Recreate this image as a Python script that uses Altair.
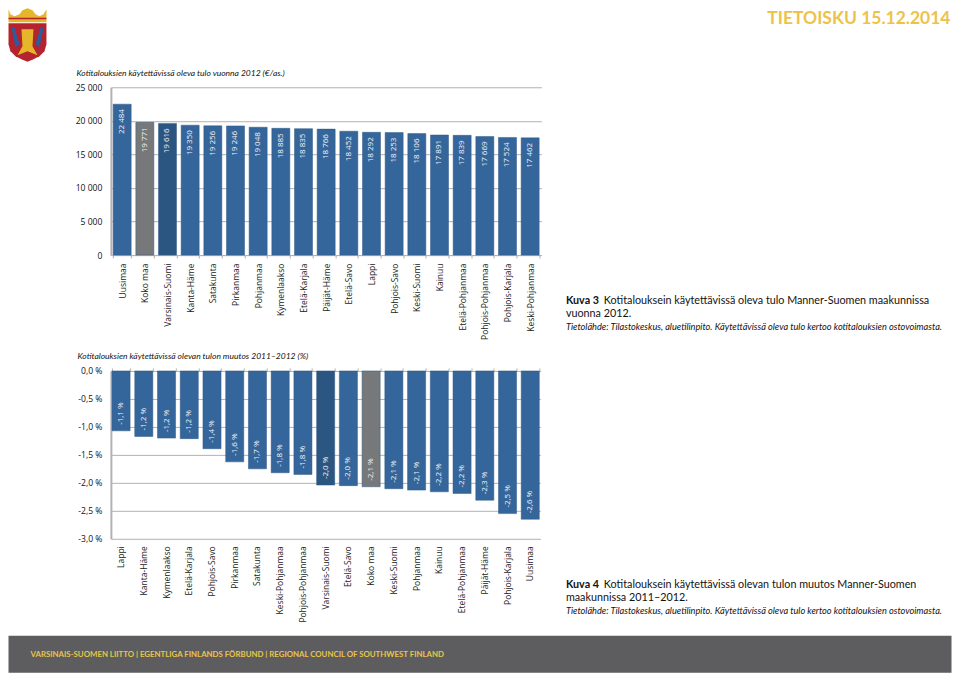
import altair as alt
import pandas as pd

# ---- data ----
names_income = ["Uusimaa", "Koko maa", "Varsinais-Suomi", "Kanta-Häme", "Satakunta", "Pirkanmaa", "Pohjanmaa",
                "Kymenlaakso", "Etelä-Karjala", "Päijät-Häme", "Etelä-Savo", "Lappi", "Pohjois-Savo", "Keski-Suomi",
                "Kainuu", "Etelä-Pohjanmaa", "Pohjois-Pohjanmaa", "Pohjois-Karjala", "Keski-Pohjanmaa"]
income = [22484, 19771, 19616, 19350, 19256, 19246, 19048, 18885, 18835, 18766, 18452, 18292, 18253, 18106,
          17891, 17839, 17669, 17524, 17462]
names_change = ["Lappi", "Kanta-Häme", "Kymenlaakso", "Etelä-Karjala", "Pohjois-Savo", "Pirkanmaa", "Satakunta",
                "Keski-Pohjanmaa", "Pohjois-Pohjanmaa", "Varsinais-Suomi", "Etelä-Savo", "Koko maa", "Keski-Suomi",
                "Pohjanmaa", "Kainuu", "Etelä-Pohjanmaa", "Päijät-Häme", "Pohjois-Karjala", "Uusimaa"]
change = [-1.07, -1.17, -1.20, -1.21, -1.39, -1.625, -1.75, -1.82, -1.85, -2.04, -2.05, -2.07, -2.105, -2.13,
          -2.16, -2.19, -2.31, -2.55, -2.65]
change_labels = ["-1,1 %", "-1,2 %", "-1,2 %", "-1,2 %", "-1,4 %", "-1,6 %", "-1,7 %", "-1,8 %", "-1,8 %", "-2,0 %",
                 "-2,0 %", "-2,1 %", "-2,1 %", "-2,1 %", "-2,2 %", "-2,2 %", "-2,3 %", "-2,5 %", "-2,6 %"]
ticks_income = [0, 5000, 10000, 15000, 20000, 25000]
ticks_change = [0, -0.5, -1, -1.5, -2, -2.5, -3]

FONT = "Open Sans"
CAP = "Lato"
BLUE, DARK, GREY = "#35669b", "#2c5682", "#76787a"
GRID = "#b2b2b2"
TOP1, LEFT = 87, 110.5
TOP2 = 370


def kind(n):
    return "total" if n == "Koko maa" else ("home" if n == "Varsinais-Suomi" else "other")


df1 = pd.DataFrame({"name": names_income, "value": income, "kind": [kind(n) for n in names_income],
                    "label": [f"{v:,}".replace(",", " ") for v in income]})
df2 = pd.DataFrame({"name": names_change, "value": change, "kind": [kind(n) for n in names_change],
                    "label": change_labels})

color = alt.Color("kind:N", legend=None,
                  scale=alt.Scale(domain=["other", "total", "home"], range=[BLUE, GREY, DARK]))
blank = alt.Data(values=[{}])


def text(s, px, py, top, size=10, font=CAP, color="#111111", style="normal", weight="normal", align="left"):
    return alt.Chart(blank).mark_text(text=s, font=font, fontSize=size, fontStyle=style, fontWeight=weight,
                                      align=align, baseline="middle", color=color).encode(
        x=alt.value(px - LEFT), y=alt.value(py - top))


def poly(points, fill, top):
    cx, cy, r = 27, 33, 30
    p = "M" + " L".join(f"{(x - cx) / r:.3f},{(y - cy) / r:.3f}" for x, y in points) + " Z"
    return alt.Chart(blank).mark_point(shape=p, filled=True, fill=fill, opacity=1, size=3600, strokeWidth=0).encode(
        x=alt.value(cx - LEFT), y=alt.value(cy - top))


shield = [(8, 23), (46, 23), (46, 44), (44, 51), (39, 56), (33, 59), (27, 61.5), (21, 59), (15, 56), (10, 51), (8, 44)]
crown = [(8, 9), (10, 14), (14, 16), (19, 14), (22, 10), (27, 8), (32, 10), (35, 14), (39, 16), (43, 14), (46, 9),
         (46, 22), (8, 22)]
band = [(8, 17.5), (46, 17.5), (46, 19), (8, 19)]
helm = [(21, 29), (33, 29), (32, 46), (37, 55), (27, 51), (17, 55), (22, 46)]
blue_l = [(11, 28), (14, 27), (19, 44), (15, 47)]
blue_r = [(43, 28), (40, 27), (35, 44), (39, 47)]
logo = [poly(shield, "#b5232e", TOP1), poly(crown, "#e6b62a", TOP1), poly(band, "#b5232e", TOP1),
        poly(helm, "#e6b62a", TOP1), poly(blue_l, "#2e5c9a", TOP1), poly(blue_r, "#2e5c9a", TOP1)]

band_x = dict(sort=None, title=None)
# ---- panel 1 ----
x1 = alt.X("name:N", **band_x, scale=alt.Scale(paddingInner=0.205, paddingOuter=0.1),
           axis=alt.Axis(labelAngle=270, labelAlign="right", labelBaseline="middle", labelFont=FONT, labelFontSize=8.5,
                         labelColor="#222222", labelPadding=5, tickBand="extent", tickSize=3, tickColor=GRID,
                         domainColor=GRID, labelOverlap=False))
y1 = alt.Y("value:Q", title=None, scale=alt.Scale(domain=[0, 25000], nice=False),
           axis=alt.Axis(values=ticks_income, grid=True, gridColor=GRID, domainColor=GRID, labelOverlap=False,
                         domainWidth=2, ticks=False, labelFont=FONT, labelFontSize=8.6, labelColor="#111111",
                         labelPadding=9, labelExpr="replace(format(datum.value, ','), ',', ' ')"))
bars1 = alt.Chart(df1).mark_bar(strokeWidth=0.8, stroke="#2c5682", strokeOpacity=0.6).encode(x=x1, y=y1, color=color)
lab1 = alt.Chart(df1).mark_text(angle=270, align="right", baseline="middle", dx=-5, color="#f0f3f7", font=FONT,
                                fontSize=8).encode(x=x1, y=y1, text="label:N")

panel1 = alt.layer(
    bars1, lab1, *logo,
    text("TIETOISKU 15.12.2014", 951, 19, TOP1, size=17.5, color="#eec24a", weight="bold", align="right"),
    text("Kotitalouksien käytettävissä oleva tulo vuonna 2012 (€/as.)", 76, 73, TOP1, size=8.5, style="italic"),
    text("Kuva 3", 566, 301, TOP1, size=10.8, weight="bold"),
    text("Kotitalouksein käytettävissä oleva tulo Manner-Suomen maakunnissa", 604, 301, TOP1, size=10.8),
    text("vuonna 2012.", 566, 314, TOP1, size=10.8),
    text("Tietolähde: Tilastokeskus, aluetilinpito. Käytettävissä oleva tulo kertoo kotitalouksien ostovoimasta.",
         566, 327, TOP1, size=9.2, style="italic"),
).properties(width=431, height=168)

# ---- panel 2 ----
x2 = alt.X("name:N", **band_x, scale=alt.Scale(paddingInner=0.205, paddingOuter=0.05),
           axis=alt.Axis(labelAngle=270, labelAlign="right", labelBaseline="middle", labelFont=FONT, labelFontSize=8.5,
                         labelColor="#222222", labelPadding=7, ticks=False, domain=False, labelOverlap=False))
x2top = alt.X("name:N", **band_x, scale=alt.Scale(paddingInner=0.205, paddingOuter=0.05),
              axis=alt.Axis(orient="top", labels=False, tickBand="extent", tickSize=3, tickColor=GRID, domainColor=GRID))
y2 = alt.Y("value:Q", title=None, scale=alt.Scale(domain=[-3, 0], nice=False),
           axis=alt.Axis(values=ticks_change, grid=True, gridColor=GRID, domainColor=GRID, labelOverlap=False,
                         domainWidth=2, ticks=False, labelFont=FONT, labelFontSize=8.6, labelColor="#111111",
                         labelPadding=9,
                         labelExpr="(datum.value < 0 ? '-' : '') + replace(format(abs(datum.value), '.1f'), '.', ',') + ' %'"))
bars2 = alt.Chart(df2).mark_bar(strokeWidth=0.8, stroke="#2c5682", strokeOpacity=0.6).encode(x=x2, y=y2, color=color)
ticks2 = alt.Chart(df2).mark_bar(opacity=0).encode(x=x2top, y=y2)
lab2 = alt.Chart(df2).mark_text(angle=270, align="left", baseline="middle", dx=6, color="#f0f3f7", font=FONT,
                                fontSize=8).encode(
    x=alt.X("name:N", sort=None, axis=None), y=y2, text="label:N")
footer = alt.Chart(blank).mark_rect(color="#5d5d5f").encode(
    x=alt.value(8 - LEFT), x2=alt.value(952 - LEFT), y=alt.value(635 - TOP2), y2=alt.value(672 - TOP2))

panel2 = alt.layer(
    ticks2, bars2, lab2, footer,
    text("VARSINAIS-SUOMEN LIITTO | EGENTLIGA FINLANDS FÖRBUND | REGIONAL COUNCIL OF SOUTHWEST FINLAND", 30, 654, TOP2,
         size=7.85, color="#e8c54a", weight="bold"),
    text("Kotitalouksien käytettävissä olevan tulon muutos 2011–2012 (%)", 77, 355, TOP2, size=8.5, style="italic"),
    text("Kuva 4", 566, 584, TOP2, size=10.8, weight="bold"),
    text("Kotitalouksein käytettävissä olevan tulon muutos Manner-Suomen", 604, 584, TOP2, size=10.8),
    text("maakunnissa 2011–2012.", 566, 597, TOP2, size=10.8),
    text("Tietolähde: Tilastokeskus, aluetilinpito. Käytettävissä oleva tulo kertoo kotitalouksien ostovoimasta.",
         566, 610, TOP2, size=9.2, style="italic"),
).resolve_axis(x="independent").properties(width=430, height=168)

chart = alt.vconcat(panel1, panel2, spacing=12).properties(padding=0, background="white").configure_view(stroke=None)

chart.save("out.html", embed_options={"renderer": "svg", "actions": False})
